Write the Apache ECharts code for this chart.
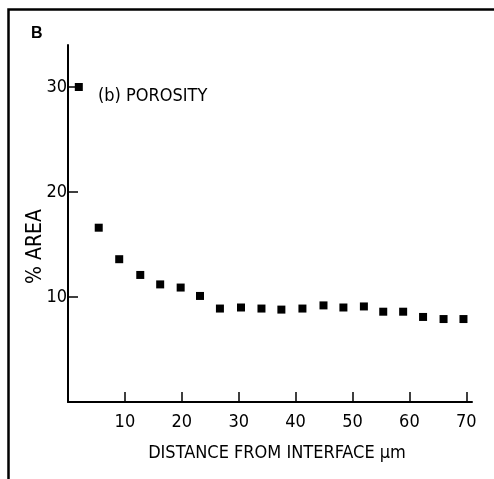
<!DOCTYPE html>
<html>
<head>
<meta charset="utf-8">
<script src="https://cdn.jsdelivr.net/npm/echarts@6/dist/echarts.min.js"></script>
<style>
html,body{margin:0;padding:0;background:#fff;}
#chart{width:494px;height:479px;}
</style>
</head>
<body>
<div id="chart"></div>
<script>
const distance = [1.9, 5.4, 9.0, 12.7, 16.2, 19.8, 23.2, 26.7, 30.4, 34.0, 37.5, 41.2, 44.9, 48.4, 52.0, 55.4, 58.9, 62.4, 66.0, 69.5];
const porosity = [30.0, 16.6, 13.6, 12.1, 11.2, 10.9, 10.1, 8.9, 9.0, 8.9, 8.8, 8.9, 9.2, 9.0, 9.1, 8.6, 8.6, 8.1, 7.9, 7.9];
const xTicks = [10, 20, 30, 40, 50, 60, 70];
const yTicks = [10, 20, 30];
const xTitle = 'DISTANCE FROM INTERFACE \u00b5m';
const yTitle = '% AREA';
const panelLabel = 'B';
const seriesLabel = '(b) POROSITY';

const FONT = "'Liberation Sans Narrow', 'DejaVu Sans Condensed', 'Liberation Sans', sans-serif";
const chart = echarts.init(document.getElementById('chart'), null, {renderer: 'canvas'});
const points = distance.map((d, i) => [d, porosity[i]]);

chart.setOption({
  animation: false,
  backgroundColor: '#fff',
  title: [
    {text: panelLabel, left: 26, top: 21, textStyle: {fontFamily: "'Liberation Sans', Arial, sans-serif", fontWeight: 'bold', fontSize: 16, color: '#000'}},
    {text: seriesLabel, left: 93, top: 82, textStyle: {fontFamily: FONT, fontWeight: 'normal', fontSize: 18, color: '#000'}}
  ],
  grid: {left: 68, right: 22, top: 45, bottom: 77, containLabel: false},
  xAxis: {
    type: 'value', min: 0, max: 71,
    name: xTitle, nameLocation: 'middle', nameGap: 42, nameMoveOverlap: false,
    nameTextStyle: {fontFamily: FONT, fontSize: 18, color: '#000', padding: [0, 0, 0, 14]},
    axisLine: {show: true, onZero: false, lineStyle: {color: '#000', width: 2}},
    axisTick: {show: true, inside: true, length: 10, lineStyle: {color: '#000', width: 1.5}, customValues: xTicks},
    axisLabel: {fontFamily: FONT, fontSize: 18, color: '#000', margin: 11, customValues: xTicks},
    splitLine: {show: false}
  },
  yAxis: {
    type: 'value', min: 0, max: 34,
    name: yTitle, nameLocation: 'middle', nameGap: 22, nameRotate: 90, nameMoveOverlap: false,
    nameTextStyle: {fontFamily: FONT, fontSize: 21, color: '#000', padding: [0, 46, 0, 0]},
    axisLine: {show: true, lineStyle: {color: '#000', width: 2}},
    axisTick: {show: true, inside: true, length: 10, lineStyle: {color: '#000', width: 1.5}, customValues: yTicks},
    axisLabel: {fontFamily: FONT, fontSize: 18, color: '#000', margin: 1, customValues: yTicks},
    splitLine: {show: false}
  },
  series: [{
    type: 'scatter',
    data: points,
    symbol: 'rect',
    symbolSize: 8,
    itemStyle: {color: '#000', opacity: 1}
  }],
  graphic: [{
    type: 'polyline',
    shape: {points: [[8.5, 479], [8.5, 9.5], [494, 9.5]]},
    style: {stroke: '#000', lineWidth: 2.5, fill: null},
    silent: true
  }]
});
</script>
</body>
</html>
